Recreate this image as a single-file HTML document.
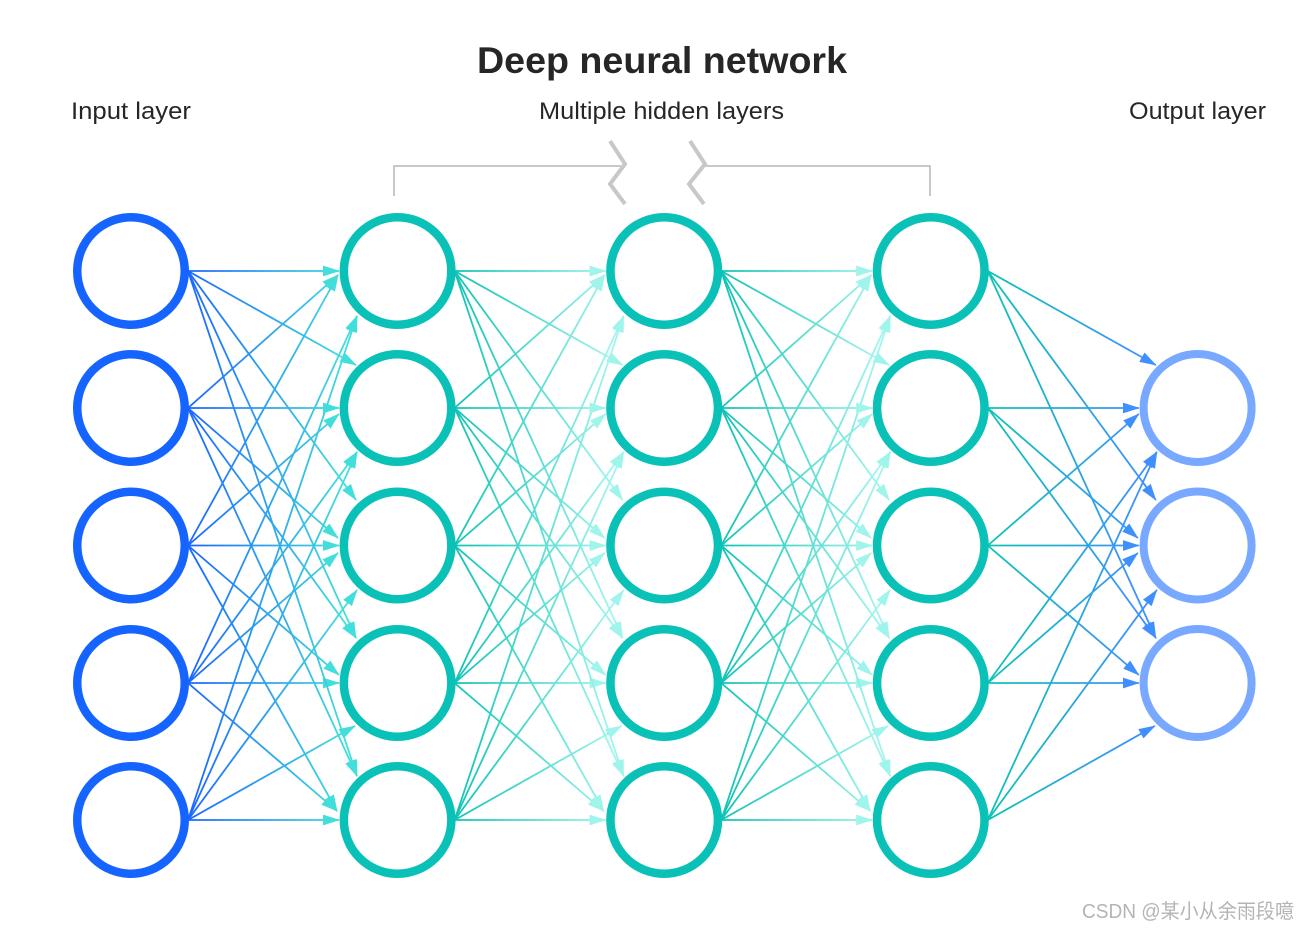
<!DOCTYPE html>
<html>
<head>
<meta charset="utf-8">
<title>Deep neural network</title>
<style>
html,body{margin:0;padding:0;background:#fff;}
svg{display:block;}
text{font-family:"Liberation Sans","Noto Sans CJK SC",sans-serif;}
</style>
</head>
<body>
<svg width="1309" height="930" viewBox="0 0 1309 930" xmlns="http://www.w3.org/2000/svg">
<defs>
<linearGradient id="g1" gradientUnits="userSpaceOnUse" x1="188" y1="0" x2="345" y2="0"><stop offset="0" stop-color="#1a66ff"/><stop offset="1" stop-color="#42dedc"/></linearGradient>
<linearGradient id="g2" gradientUnits="userSpaceOnUse" x1="188" y1="0" x2="345" y2="0"><stop offset="0" stop-color="#0fc3b5"/><stop offset="1" stop-color="#a0f5ec"/></linearGradient>
<linearGradient id="g3" gradientUnits="userSpaceOnUse" x1="188" y1="0" x2="345" y2="0"><stop offset="0" stop-color="#0fc3b5"/><stop offset="1" stop-color="#3f8fff"/></linearGradient>
<marker id="m1" markerUnits="userSpaceOnUse" markerWidth="20" markerHeight="14" refX="16" refY="7" orient="auto"><path d="M0 1.6L17 7L0 12.4Z" fill="#42dedc"/></marker>
<marker id="m2" markerUnits="userSpaceOnUse" markerWidth="20" markerHeight="14" refX="16" refY="7" orient="auto"><path d="M0 1.6L17 7L0 12.4Z" fill="#9ff4eb"/></marker>
<marker id="m3" markerUnits="userSpaceOnUse" markerWidth="20" markerHeight="14" refX="16" refY="7" orient="auto"><path d="M0 1.6L17 7L0 12.4Z" fill="#3f8fff"/></marker>
<g id="T1">
<path d="M188 271L339 271"/><path d="M188 408L338 275"/><path d="M188 545.5L338 275"/><path d="M188 683L357 316"/><path d="M188 820L357 316"/>
</g>
<g id="T2">
<path d="M188 271L356 365"/><path d="M188 408L339 408"/><path d="M188 545.5L339 414"/><path d="M188 683L357 452"/><path d="M188 820L357 452"/>
</g>
<g id="T3">
<path d="M188 271L356 500"/><path d="M188 408L338 538"/><path d="M188 545.5L339 545.5"/><path d="M188 683L338 553"/><path d="M188 820L357 590"/>
</g>
<g id="T4">
<path d="M188 271L356 638"/><path d="M188 408L356 638"/><path d="M188 545.5L339 675"/><path d="M188 683L339 683"/><path d="M188 820L355 726"/>
</g>
<g id="T5">
<path d="M188 271L357 776"/><path d="M188 408L357 776"/><path d="M188 545.5L337 811"/><path d="M188 683L337 811"/><path d="M188 820L339 820"/>
</g>
<g id="ALL"><use href="#T1"/><use href="#T2"/><use href="#T3"/><use href="#T4"/><use href="#T5"/></g>
</defs>

<text x="477" y="73" font-size="37" font-weight="700" fill="#262626" textLength="370" lengthAdjust="spacingAndGlyphs">Deep neural network</text>
<text x="71" y="119" font-size="24" fill="#262626" textLength="120" lengthAdjust="spacingAndGlyphs">Input layer</text>
<text x="539" y="119" font-size="24" fill="#262626" textLength="245" lengthAdjust="spacingAndGlyphs">Multiple hidden layers</text>
<text x="1129" y="119" font-size="24" fill="#262626" textLength="137" lengthAdjust="spacingAndGlyphs">Output layer</text>

<g fill="none" stroke="#c8c8c8">
<path d="M394 196V166H621M703 166H930V196" stroke-width="2"/>
<path d="M610 141L625 164L610 184L625 204" stroke-width="4"/>
<path d="M690 141L705 164L689 184L704 204" stroke-width="4"/>
</g>

<g fill="none" stroke-width="1.8">
<use href="#ALL" stroke="url(#g1)" marker-end="url(#m1)"/>
<use href="#ALL" stroke="url(#g2)" marker-end="url(#m2)" transform="translate(266.6 0)"/>
<use href="#ALL" stroke="url(#g2)" marker-end="url(#m2)" transform="translate(533.2 0)"/>
<g stroke="url(#g3)" marker-end="url(#m3)" transform="translate(799.8 0)">
<use href="#T2"/><use href="#T3"/><use href="#T4"/>
</g>
</g>

<g fill="none">
<g stroke="#1664ff" stroke-width="8.5">
<circle cx="131" cy="271" r="53.75"/><circle cx="131" cy="408" r="53.75"/><circle cx="131" cy="545.5" r="53.75"/><circle cx="131" cy="683" r="53.75"/><circle cx="131" cy="820" r="53.75"/>
</g>
<g stroke="#09c1b6" stroke-width="8.5">
<circle cx="397.6" cy="271" r="53.75"/><circle cx="397.6" cy="408" r="53.75"/><circle cx="397.6" cy="545.5" r="53.75"/><circle cx="397.6" cy="683" r="53.75"/><circle cx="397.6" cy="820" r="53.75"/>
<circle cx="664.2" cy="271" r="53.75"/><circle cx="664.2" cy="408" r="53.75"/><circle cx="664.2" cy="545.5" r="53.75"/><circle cx="664.2" cy="683" r="53.75"/><circle cx="664.2" cy="820" r="53.75"/>
<circle cx="930.8" cy="271" r="53.75"/><circle cx="930.8" cy="408" r="53.75"/><circle cx="930.8" cy="545.5" r="53.75"/><circle cx="930.8" cy="683" r="53.75"/><circle cx="930.8" cy="820" r="53.75"/>
</g>
<g stroke="#78a8ff" stroke-width="8">
<circle cx="1197.6" cy="408" r="54"/><circle cx="1197.6" cy="545.5" r="54"/><circle cx="1197.6" cy="683" r="54"/>
</g>
</g>

<text x="1082" y="918" font-size="20" fill="#b4b4b4" textLength="212" lengthAdjust="spacingAndGlyphs">CSDN @某小从余雨段噫</text>
</svg>
</body>
</html>
